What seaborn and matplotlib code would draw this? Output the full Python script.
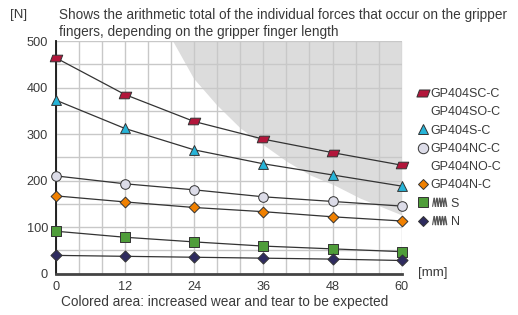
import matplotlib
matplotlib.use("Agg")
import matplotlib.pyplot as plt
from matplotlib.lines import Line2D
from matplotlib.legend_handler import HandlerBase
from matplotlib.path import Path
import seaborn as sns
import pandas as pd

# finger length [mm]
length_mm = [0, 12, 24, 36, 48, 60]

# gripper force [N] per variant
force_sc = [464, 385, 327, 289, 260, 233]
force_s = [373, 312, 266, 236, 212, 188]
force_nc = [210, 193, 180, 165, 155, 145]
force_n = [167, 154, 142, 133, 122, 113]
force_spring_s = [91, 78, 68, 59, 53, 47]
force_spring_n = [39, 37, 35, 33, 31, 28]

# boundary of the grey "increased wear" area
wear_mm = [20.3, 23.9, 27.9, 32.0, 36.0, 40.1, 44.1, 48.2, 52.8, 60.0]
wear_n = [500, 420, 363, 313, 277, 241, 212, 191, 162, 126]

legend_labels = ["GP404SC-C", "GP404SO-C", "GP404S-C", "GP404NC-C",
                 "GP404NO-C", "GP404N-C", "S", "N"]

para = Path([(-0.75, -0.4), (0.45, -0.4), (0.75, 0.4), (-0.45, 0.4), (-0.75, -0.4)],
            [Path.MOVETO, Path.LINETO, Path.LINETO, Path.LINETO, Path.CLOSEPOLY])

series = [
    (force_sc, para, "#b2163b", 80),
    (force_s, "^", "#27b4d8", 50),
    (force_nc, "o", "#dcdce8", 48),
    (force_n, "D", "#f08000", 30),
    (force_spring_s, "s", "#4f9d3a", 45),
    (force_spring_n, "D", "#2e2b5f", 32),
]

sns.set_style("white")
plt.rcParams["font.family"] = ["Liberation Sans", "DejaVu Sans"]
txt = "#3a3a3a"

fig = plt.figure(figsize=(5.18, 3.15), dpi=100)
ax = fig.add_axes([0.1075, 0.1317, 0.668, 0.738])

ax.fill_between(wear_mm, wear_n, 500, color="#dcdcdc", lw=0, zorder=0.2)

for vals, mk, col, size in series:
    df = pd.DataFrame({"mm": length_mm, "N": vals})
    sns.lineplot(data=df, x="mm", y="N", color="#333333", lw=0.9, ax=ax, zorder=3)
    sns.scatterplot(data=df, x="mm", y="N", marker=mk, color=col, s=size,
                    edgecolor="#333333", linewidth=0.7, ax=ax, zorder=4, clip_on=False)

ax.set_xlim(0, 60)
ax.set_ylim(0, 500)
ax.set_xticks(range(0, 61, 12))
ax.set_xticks(range(0, 61, 4), minor=True)
ax.set_yticks(range(0, 501, 100))
ax.set_yticks(range(0, 501, 50), minor=True)
ax.set_axisbelow(True)
ax.grid(True, which="both", color="#c8c8c8", lw=1.0)
ax.tick_params(which="minor", length=0)
ax.tick_params(which="major", length=4, width=1, color="#222222",
               labelsize=9.2, labelcolor=txt, pad=1.5)
ax.set_xlabel("")
ax.set_ylabel("")
for s in ["top", "right"]:
    ax.spines[s].set_visible(False)
ax.spines["left"].set_color("#111111")
ax.spines["left"].set_linewidth(1.3)
ax.spines["bottom"].set_color("#444444")
ax.spines["bottom"].set_linewidth(2)


class HandlerSpring(HandlerBase):
    def __init__(self, fill):
        super().__init__()
        self.fill = fill

    def create_artists(self, legend, orig_handle, xdescent, ydescent,
                       width, height, fontsize, trans):
        cy = height / 2 - ydescent
        cx = width / 2 - xdescent
        art = [Line2D([cx], [cy], marker=orig_handle.get_marker(),
                      markersize=orig_handle.get_markersize(),
                      markerfacecolor=self.fill, markeredgecolor="#333333",
                      markeredgewidth=0.7, ls="none", transform=trans)]
        x0 = width + 0.35 * fontsize
        step = 0.11 * fontsize
        for k in range(5):
            xs = [x0 + k * 2 * step, x0 + (k * 2 + 1) * step, x0 + (k * 2 + 2) * step]
            art.append(Line2D(xs, [cy - 0.33 * fontsize, cy + 0.33 * fontsize, cy - 0.33 * fontsize],
                              color="#555555", lw=0.8, transform=trans))
            art.append(Line2D([xs[1] + 0.3 * step, xs[2] + 0.3 * step],
                              [cy + 0.33 * fontsize, cy - 0.33 * fontsize],
                              color="#555555", lw=0.8, transform=trans))
        return art


def mh(mk, col, ms):
    return Line2D([], [], marker=mk, ls="none", markersize=ms,
                  markerfacecolor=col, markeredgecolor="#333333", markeredgewidth=0.7)


blank = Line2D([], [], ls="none", marker=None)
spring_s = mh("s", "#4f9d3a", 6.6)
spring_n = mh("D", "#2e2b5f", 5.5)
handles = [mh(para, "#b2163b", 9.5), blank, mh("^", "#27b4d8", 7.5), mh("o", "#dcdce8", 7.5),
           blank, mh("D", "#f08000", 5.5), spring_s, spring_n]
labels = list(legend_labels)
labels[6] = "      " + labels[6]
labels[7] = "      " + labels[7]
leg = fig.legend(handles, labels, loc="upper left", bbox_to_anchor=(0.805, 0.72),
                 frameon=False, fontsize=9, handlelength=0.9, handletextpad=0.15,
                 labelspacing=0.5, borderpad=0, borderaxespad=0,
                 handler_map={spring_s: HandlerSpring("#4f9d3a"),
                              spring_n: HandlerSpring("#2e2b5f")})
for t in leg.get_texts():
    t.set_color(txt)

fig.text(0.02, 0.952, "[N]", fontsize=9.5, color=txt, va="center")
fig.text(0.114, 0.975,
         "Shows the arithmetic total of the individual forces that occur on the gripper\n"
         "fingers, depending on the gripper finger length",
         fontsize=9.8, color=txt, va="top", linespacing=1.3)
fig.text(0.807, 0.134, "[mm]", fontsize=9.5, color=txt, va="center")
fig.text(0.117, 0.04, "Colored area: increased wear and tear to be expected",
         fontsize=9.8, color=txt, va="center")

fig.savefig("out.png", dpi=100)
